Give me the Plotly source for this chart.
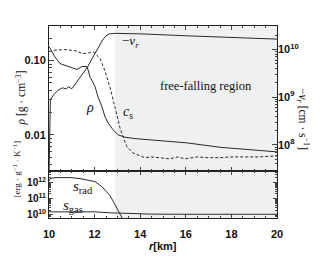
import plotly.graph_objects as go

# ---------------- data ----------------
r_rho = [10.0, 10.26, 10.48, 10.83, 11.23, 11.45, 11.67, 11.8, 11.89, 12.02, 12.15,
         12.32, 12.46, 12.59, 12.81, 13.03, 13.33, 13.77, 16.05, 17.5, 20.0]
rho = [0.155, 0.112, 0.0912, 0.0832, 0.0759, 0.0832, 0.0832, 0.0603, 0.0525, 0.0447,
       0.0324, 0.0240, 0.0174, 0.0145, 0.0117, 0.0100, 0.0093, 0.0089, 0.0078, 0.0068, 0.0059]

r_vr = [10.0, 10.03, 10.06, 10.2, 10.4, 10.6, 10.75, 10.85, 11.0, 11.1, 11.25, 11.5,
        11.7, 11.9, 12.05, 12.2, 12.35, 12.5, 12.65, 12.9, 13.2, 14.0, 16.0, 18.0, 20.0]
vr = [2.0e7, 4.0e8, 8.9e8, 1.12e9, 1.41e9, 1.58e9, 1.48e9, 1.66e9, 1.51e9, 1.74e9, 2.19e9,
      3.16e9, 4.37e9, 6.6e9, 8.9e9, 1.2e10, 1.58e10, 1.95e10, 2.14e10, 2.19e10, 2.19e10,
      2.14e10, 1.95e10, 1.78e10, 1.66e10]

r_cs = [10.0, 10.3, 10.7, 11.14, 11.45, 11.67, 11.93, 12.24, 12.46, 12.68, 12.9, 13.11,
        13.33, 13.42, 13.68, 13.9, 14.2, 14.5, 14.87, 15.3, 15.66, 15.96, 16.5, 16.93,
        17.5, 18.07, 18.68, 19.25, 20.0]
cs = [9.1e9, 9.8e9, 1.0e10, 9.5e9, 8.3e9, 8.3e9, 9.1e9, 6.5e9, 3.5e9, 1.58e9, 6.0e8,
      2.3e8, 1.15e8, 9.1e7, 6.8e7, 6.2e7, 5.4e7, 5.6e7, 5.4e7, 5.1e7, 5.6e7, 5.1e7,
      5.6e7, 5.4e7, 5.4e7, 5.6e7, 5.6e7, 5.6e7, 5.9e7]

r_srad = [10.0, 10.05, 10.26, 10.92, 11.36, 11.8, 12.02, 12.32, 12.68, 12.9, 13.11, 13.25]
s_rad = [1.26e12, 1.78e12, 2.04e12, 2.04e12, 1.78e12, 1.32e12, 1.15e12, 5.6e11, 1.55e11,
         4.2e10, 1.15e10, 5.0e9]

r_sgas = [10.0, 11.0, 12.0, 12.7, 13.5, 14.5, 16.0, 18.0, 20.0]
s_gas = [1.55e10, 1.58e10, 1.55e10, 1.35e10, 1.2e10, 1.12e10, 1.1e10, 1.1e10, 1.1e10]

free_fall_start = 12.9
x_ticks = [10, 12, 14, 16, 18, 20]
rho_ticks = [0.01, 0.1]
rho_ticktext = ["0.01", "0.10"]
v_ticks = [1e8, 1e9, 1e10]
v_ticktext = ["10<sup>8</sup>", "10<sup>9</sup>", "10<sup>10</sup>"]
s_ticks = [1e10, 1e11, 1e12]
s_ticktext = ["10<sup>10</sup>", "10<sup>11</sup>", "10<sup>12</sup>"]

# ---------------- figure ----------------
OFF = 8  # page body margin
W, H = 327 - OFF, 264 - OFF
ML, MR, MT, MB = 49 - OFF, 50, 26 - OFF, 46
PW, PH = W - ML - MR, H - MT - MB


def px(x):
    return (x - OFF - ML) / PW


def py(y):
    return (H - MB - (y - OFF)) / PH


LC = "#2a2a2a"
fig = go.Figure()
fig.add_trace(go.Scatter(x=r_rho, y=rho, mode="lines", line=dict(color=LC, width=1),
                         xaxis="x", yaxis="y", showlegend=False))
fig.add_trace(go.Scatter(x=r_vr, y=vr, mode="lines", line=dict(color=LC, width=1),
                         xaxis="x", yaxis="y2", showlegend=False))
fig.add_trace(go.Scatter(x=r_cs, y=cs, mode="lines", line=dict(color=LC, width=1, dash="3px,2px"),
                         xaxis="x", yaxis="y2", showlegend=False))
fig.add_trace(go.Scatter(x=r_srad, y=s_rad, mode="lines", line=dict(color=LC, width=1),
                         xaxis="x2", yaxis="y3", showlegend=False))
fig.add_trace(go.Scatter(x=r_sgas, y=s_gas, mode="lines", line=dict(color=LC, width=1),
                         xaxis="x2", yaxis="y3", showlegend=False))

split = (218 - 170.5) / PH
tickfont = dict(family="Liberation Sans", size=11, color="#111", weight="bold")
stickfont = dict(family="Liberation Sans", size=10, color="#111", weight="bold")
common_x = dict(range=[10, 20], showline=True, linecolor="#222", linewidth=1, mirror="ticks",
                ticks="inside", ticklen=4, tickcolor="#444", showgrid=False, zeroline=False,
                minor=dict(ticks="inside", ticklen=2, dtick=0.5, tickcolor="#444"))
fig.update_layout(
    width=W, height=H, margin=dict(l=ML, r=MR, t=MT, b=MB),
    plot_bgcolor="white", paper_bgcolor="white",
    xaxis=dict(**common_x, anchor="y", domain=[0, 1], showticklabels=False,
               tickvals=x_ticks),
    xaxis2=dict(**common_x, anchor="y3", domain=[0, 1], tickvals=x_ticks,
                tickfont=tickfont, ticklabelstandoff=6),
    yaxis=dict(type="log", range=[-2.48, -0.534], domain=[split, 1], anchor="x",
               tickvals=rho_ticks, ticktext=rho_ticktext, tickfont=tickfont,
               showline=True, linecolor="#222", linewidth=1, mirror=True,
               ticks="inside", ticklen=5, tickcolor="#444", showgrid=False, zeroline=False,
               minor=dict(ticks="inside", ticklen=2.5, tickcolor="#444",
                          tickvals=[0.004, 0.005, 0.006, 0.007, 0.008, 0.009,
                                    0.02, 0.03, 0.04, 0.05, 0.06, 0.07, 0.08, 0.09,
                                    0.2, 0.3])),
    yaxis2=dict(type="log", range=[7.463, 10.495], overlaying="y", side="right", anchor="x",
                tickvals=v_ticks, ticktext=v_ticktext, tickfont=tickfont,
                showline=False, ticks="inside", ticklen=5, tickcolor="#444",
                showgrid=False, zeroline=False,
                minor=dict(ticks="inside", ticklen=2.5, tickcolor="#444",
                           tickvals=[m * d for d in [1e7, 1e8, 1e9, 1e10]
                                     for m in [2, 3, 4, 5, 6, 7, 8, 9]])),
    yaxis3=dict(type="log", range=[9.81, 12.75], domain=[0, split], anchor="x2",
                tickvals=s_ticks, ticktext=s_ticktext, tickfont=stickfont,
                showline=True, linecolor="#222", linewidth=1, mirror="ticks",
                ticks="inside", ticklen=4, tickcolor="#444", showgrid=False, zeroline=False,
                minor=dict(ticks="inside", ticklen=2, tickcolor="#444",
                           tickvals=[m * d for d in [1e9, 1e10, 1e11, 1e12]
                                     for m in [2, 3, 4, 5, 6, 7, 8, 9]])),
)

# free-falling shaded region across both panels
for xr, yr in [("x", "y"), ("x2", "y3")]:
    fig.add_shape(type="rect", xref=xr, yref=yr + " domain", x0=free_fall_start, x1=20,
                  y0=0, y1=1, fillcolor="#eff0f0", line=dict(width=0), layer="below")

serif = "Liberation Serif"
ann = [
    dict(x=px(206), y=py(86), text="free-falling region", size=12.5),
    dict(x=px(90), y=py(107), text="<i>ρ</i>", size=14),
    dict(x=px(128), y=py(112), text="<i>c</i><sub>s</sub>", size=14),
    dict(x=px(130), y=py(41), text="−<i>v<sub>r</sub></i>", size=13),
    dict(x=px(83), y=py(187), text="<i>s</i><sub>rad</sub>", size=15),
    dict(x=px(73), y=py(206), text="<i>s</i><sub>gas</sub>", size=15),
]
for a in ann:
    fig.add_annotation(x=a["x"], y=a["y"], xref="paper", yref="paper", text=a["text"],
                       showarrow=False, xanchor="center", yanchor="middle",
                       font=dict(family=serif, size=a["size"], color="#111"))

# axis titles
fig.add_annotation(x=px(11), y=py(98), xref="paper", yref="paper",
                   text="<i>ρ</i> [g · cm<sup>−3</sup>]", textangle=-90, showarrow=False,
                   font=dict(family=serif, size=11.5, color="#111"))
fig.add_annotation(x=px(8), y=py(200), xref="paper", yref="paper",
                   text="[erg · g<sup>−1</sup> · K<sup>−1</sup>]", textangle=-90, showarrow=False,
                   font=dict(family=serif, size=9, color="#111"))
fig.add_annotation(x=px(313), y=py(86), xref="paper", yref="paper",
                   text="−<i>v<sub>r</sub></i> [cm · s<sup>−1</sup>]", textangle=90,
                   showarrow=False, font=dict(family=serif, size=11.5, color="#111"))
fig.add_annotation(x=px(163), y=py(254), xref="paper", yref="paper",
                   text="<i>r</i>[km]", showarrow=False,
                   font=dict(family="Liberation Sans", size=11, color="#111", weight="bold"))

fig.write_html("out.html")
